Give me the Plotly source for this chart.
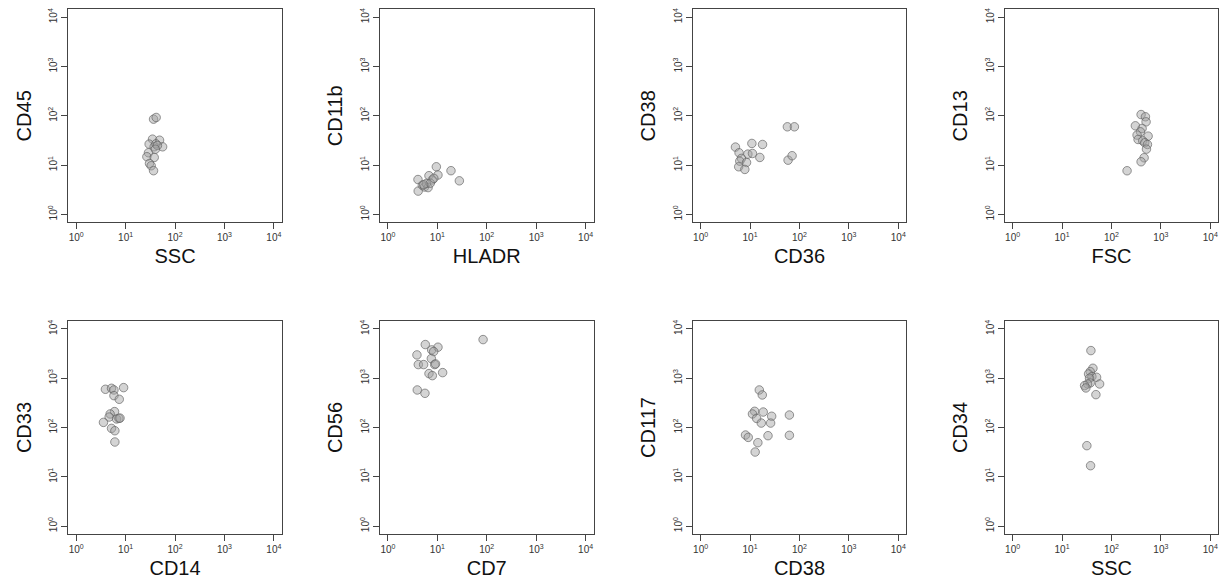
import plotly.graph_objects as go

# ---- data ----
ssc_1 = [36.7, 41.5, 35, 48.6, 29.9, 37.8, 56, 41, 29, 26.9, 37.9, 30.4, 32.9, 36.7, 44, 40]
cd45_1 = [85.5, 92.5, 33.6, 32, 26.7, 23.5, 23.5, 27, 17.8, 14.8, 14.3, 10.8, 9.7, 7.7, 25, 21]

hladr_2 = [4.06, 4.1, 9.55, 18.9, 27.9, 10.3, 6.77, 7.9, 4.97, 5.5, 6.5, 6.0, 7.2, 5.3, 8.5]
cd11b_2 = [5.1, 2.97, 9.25, 7.7, 4.8, 6.3, 6.1, 5.0, 3.9, 3.6, 3.5, 4.25, 4.3, 4.0, 5.4]

cd36_3 = [5.07, 6.0, 10.9, 17.9, 9.04, 11.2, 15.8, 6.7, 6.2, 8.5, 5.9, 7.85, 57, 79, 58.9, 71]
cd38_3 = [23.2, 17.8, 27.5, 26.2, 16.7, 17.2, 14.3, 13.7, 12.0, 11.3, 9.25, 8.17, 59.8, 59.8, 12.6, 15.5]

fsc_4 = [207, 305, 398, 487, 502, 417, 386, 330, 552, 346, 430, 472, 535, 511, 458, 398]
cd13_4 = [7.68, 62.7, 106, 95.5, 75.5, 55.4, 47.4, 40.6, 38.7, 33.1, 31.1, 28.4, 26.2, 21.1, 14.1, 11.7]

cd14_5 = [3.9, 5.18, 5.8, 9.1, 5.8, 7.43, 5.97, 4.86, 4.64, 6.55, 7.3, 7.7, 3.56, 5.18, 6.06, 6.06]
cd33_5 = [596, 624, 577, 644, 443, 373, 210, 188, 163, 149, 153, 155, 127, 96, 86, 50.8]

cd7_6 = [84.3, 5.71, 10.3, 7.68, 8.43, 3.87, 7.56, 4.12, 5.28, 8.83, 9.2, 6.78, 7.92, 12.8, 3.93, 5.62]
cd56_6 = [6070, 4810, 4250, 3750, 3470, 2965, 2500, 1888, 1888, 1888, 1950, 1240, 1128, 1298, 577, 494]

cd38_7 = [15.4, 17.7, 12.4, 11.2, 18.5, 27.4, 62.6, 13.6, 16.9, 26.1, 8.1, 9.2, 23.1, 62.6, 14.4, 12.7]
cd117_7 = [577, 457, 213, 188, 206, 169, 179, 153, 123, 123, 70.4, 63, 68.2, 69.4, 49.2, 31.8]

ssc_8 = [38.4, 42.2, 37.2, 34.4, 40.2, 50, 36, 57.6, 37.2, 32.9, 28.6, 30.4, 48.5, 31.8, 37.8]
cd34_8 = [3630, 1590, 1361, 1220, 1077, 1044, 1000, 764, 801, 764, 707, 634, 464, 42.8, 16.8]

panels = [
    (ssc_1, cd45_1, "SSC", "CD45"),
    (hladr_2, cd11b_2, "HLADR", "CD11b"),
    (cd36_3, cd38_3, "CD36", "CD38"),
    (fsc_4, cd13_4, "FSC", "CD13"),
    (cd14_5, cd33_5, "CD14", "CD33"),
    (cd7_6, cd56_6, "CD7", "CD56"),
    (cd38_7, cd117_7, "CD38", "CD117"),
    (ssc_8, cd34_8, "SSC", "CD34"),
]

tick_vals = [1, 10, 100, 1000, 10000]
tick_text = ["10<sup>0</sup>", "10<sup>1</sup>", "10<sup>2</sup>", "10<sup>3</sup>", "10<sup>4</sup>"]

W, H = 1222, 586
col_left = [68.3, 380.0, 692.7, 1004.7]
pw = 213.5
row_top = [9.3, 321.0]
ph = 213.0

fig = go.Figure()
layout = {}
for i, (xs, ys, xt, yt) in enumerate(panels):
    r, c = divmod(i, 4)
    n = i + 1
    xa = "x" if n == 1 else f"x{n}"
    ya = "y" if n == 1 else f"y{n}"
    fig.add_trace(go.Scatter(
        x=xs, y=ys, mode="markers", xaxis=xa, yaxis=ya, showlegend=False,
        marker=dict(size=8.5, color="rgba(160,160,160,0.45)",
                    line=dict(color="rgba(95,95,95,0.65)", width=1)),
    ))
    x0 = col_left[c] / W
    x1 = (col_left[c] + pw) / W
    y1 = 1 - row_top[r] / H
    y0 = 1 - (row_top[r] + ph) / H
    common = dict(
        type="log", range=[-0.16, 4.16], showgrid=False, zeroline=False,
        showline=True, mirror=True, linecolor="#444", linewidth=1,
        ticks="outside", ticklen=6, tickcolor="#444", tickwidth=1,
        tickvals=tick_vals, ticktext=tick_text,
        tickfont=dict(family="Liberation Sans, Arial", size=10, color="#333"),
    )
    layout["xaxis" if n == 1 else f"xaxis{n}"] = dict(
        common, domain=[x0, x1], anchor=ya,
        title=dict(text=xt, standoff=6,
                   font=dict(family="Liberation Sans, Arial", size=20, color="#111")),
    )
    layout["yaxis" if n == 1 else f"yaxis{n}"] = dict(
        common, domain=[y0, y1], anchor=xa, tickangle=-90,
        title=dict(text=yt, standoff=10,
                   font=dict(family="Liberation Sans, Arial", size=20, color="#111")),
    )

fig.update_layout(
    width=W, height=H, margin=dict(l=0, r=0, t=0, b=0),
    plot_bgcolor="white", paper_bgcolor="white", **layout,
)

fig.write_html("out.html")
